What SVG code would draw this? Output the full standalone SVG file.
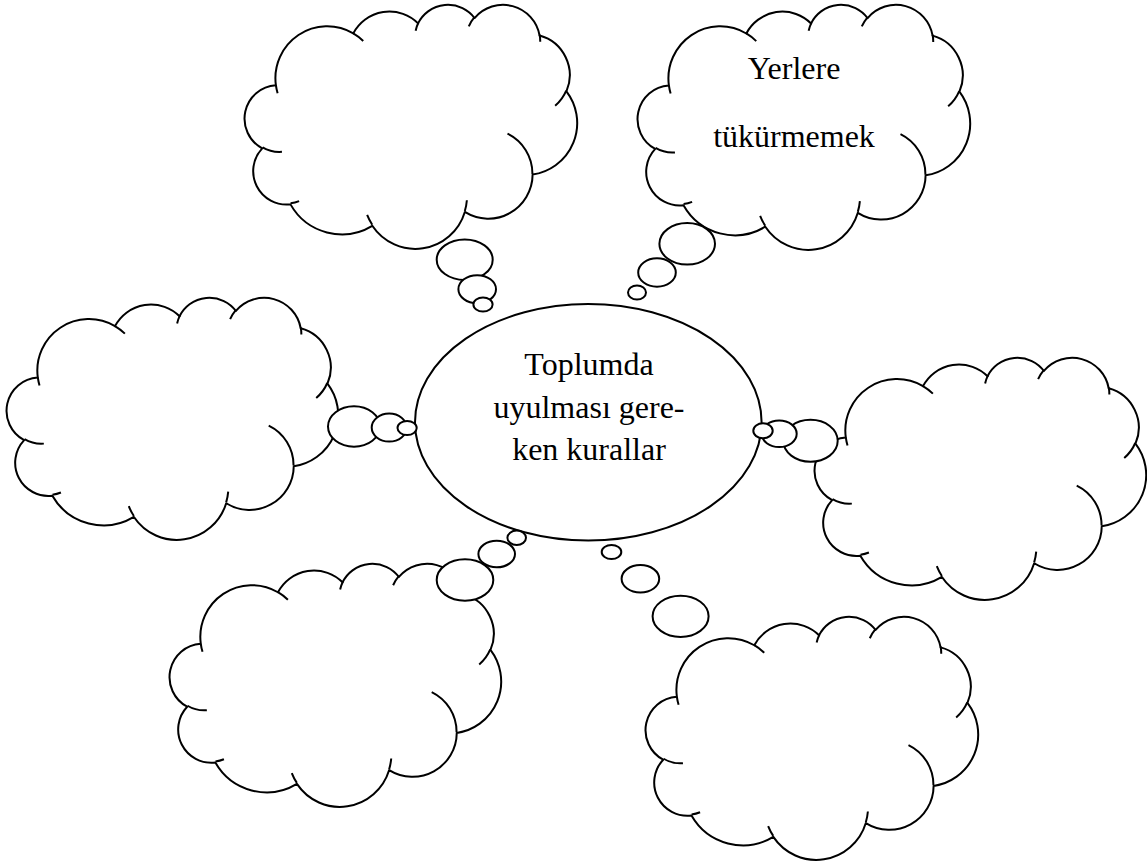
<svg xmlns="http://www.w3.org/2000/svg" xmlns:xlink="http://www.w3.org/1999/xlink" width="1147" height="863" viewBox="0 0 1147 863">
  <style>
    .body { fill: #ffffff; stroke: #000000; stroke-width: 2; vector-effect: non-scaling-stroke; stroke-linejoin: round; }
    .inner { fill: none; stroke: #000000; stroke-width: 2; vector-effect: non-scaling-stroke; stroke-linecap: butt; }
    .bubble { fill: #ffffff; stroke: #000000; stroke-width: 2; }
    .main { fill: #ffffff; stroke: #000000; stroke-width: 2; }
    .lbl { font-family: "Liberation Serif", "Times New Roman", serif; font-size: 32px; fill: #000000; text-anchor: middle; }
  </style>
  <defs>
    <path id="cloudBody" class="body" d="M 90.3 332.6 A 156.3 212.7 0 0 1 324.2 120.4 A 123.4 168.2 0 0 1 519.8 79.5 A 101.0 137.6 0 0 1 690.6 57.5 A 112.4 152.7 0 0 1 887.0 129.1 A 123.4 168.4 0 0 1 968.1 357.9 A 156.8 213.4 0 0 1 865.9 699.2 A 133.9 182.1 0 0 1 661.1 852.2 A 156.3 213.3 0 0 1 381.6 909.0 A 178.7 244.1 0 0 1 134.4 821.2 A 100.9 137.0 0 0 1 49.0 591.5 A 100.6 137.6 0 0 1 90.3 332.6 Z"/>
    <path id="cloudInner" class="inner" d="M 95.5 365.5 A 156.3 212.7 0 0 1 90.3 332.6 M 108.6 605.9 A 100.6 137.6 0 0 1 50.0 587.5 M 160.4 807.8 A 100.9 137.0 0 0 1 134.7 816.7 M 381.4 904.9 A 156.3 213.3 0 0 1 366.0 864.6 M 667.3 804.4 A 156.3 213.3 0 0 1 661.1 848.6 M 790.0 531.3 A 133.9 182.1 0 0 1 865.3 696.5 M 967.5 355.4 A 123.4 168.4 0 0 1 934.0 417.4 M 887.1 125.6 A 112.4 152.7 0 0 1 888.9 154.9 M 673.1 91.5 A 112.4 152.7 0 0 1 690.3 54.2 M 512.5 109.3 A 101.0 137.6 0 0 1 520.8 77.1 M 324.1 120.2 A 156.3 212.7 0 0 1 354.2 151.4"/>
  </defs>

  <g id="center-node">
    <ellipse class="main" cx="588.3" cy="422.3" rx="173.3" ry="118.3"/>
    <text class="lbl" x="589" y="374.5">Toplumda</text>
    <text class="lbl" x="589" y="417.5">uyulması gere-</text>
    <text class="lbl" x="589" y="459.5">ken kurallar</text>
  </g>

  <g id="cloud-top-left" transform="translate(246 4) scale(0.331 0.244)">
    <use xlink:href="#cloudBody" href="#cloudBody"/>
    <use xlink:href="#cloudInner" href="#cloudInner"/>
  </g>

  <g id="cloud-top-right">
    <g transform="translate(639 4) scale(0.331 0.245)">
      <use xlink:href="#cloudBody" href="#cloudBody"/>
      <use xlink:href="#cloudInner" href="#cloudInner"/>
    </g>
    <text class="lbl" x="794" y="78.5">Yerlere</text>
    <text class="lbl" x="794" y="146.5">tükürmemek</text>
  </g>

  <g id="cloud-left" transform="translate(8 297) scale(0.330 0.242)">
    <use xlink:href="#cloudBody" href="#cloudBody"/>
    <use xlink:href="#cloudInner" href="#cloudInner"/>
  </g>

  <g id="cloud-right" transform="translate(816 357) scale(0.330 0.242)">
    <use xlink:href="#cloudBody" href="#cloudBody"/>
    <use xlink:href="#cloudInner" href="#cloudInner"/>
  </g>

  <g id="cloud-bottom-left" transform="translate(171 563) scale(0.330 0.243)">
    <use xlink:href="#cloudBody" href="#cloudBody"/>
    <use xlink:href="#cloudInner" href="#cloudInner"/>
  </g>

  <g id="cloud-bottom-right" transform="translate(647 616) scale(0.331 0.243)">
    <use xlink:href="#cloudBody" href="#cloudBody"/>
    <use xlink:href="#cloudInner" href="#cloudInner"/>
  </g>

  <g id="connectors">
    <g id="bubbles-top-left">
      <ellipse class="bubble" cx="464.7" cy="259.7" rx="28" ry="20.3"/>
      <ellipse class="bubble" cx="477.2" cy="289.2" rx="18.8" ry="14"/>
      <ellipse class="bubble" cx="483" cy="304.5" rx="9.6" ry="7"/>
    </g>
    <g id="bubbles-top-right">
      <ellipse class="bubble" cx="687.2" cy="243.8" rx="27.8" ry="20.8"/>
      <ellipse class="bubble" cx="657" cy="272.5" rx="18.8" ry="14.2"/>
      <ellipse class="bubble" cx="637" cy="292.5" rx="9" ry="7"/>
    </g>
    <g id="bubbles-left">
      <ellipse class="bubble" cx="354" cy="426.5" rx="26" ry="20.2"/>
      <ellipse class="bubble" cx="389.2" cy="427.6" rx="17.5" ry="14"/>
      <ellipse class="bubble" cx="407.1" cy="428" rx="9.6" ry="7"/>
    </g>
    <g id="bubbles-right">
      <ellipse class="bubble" cx="810.5" cy="440.8" rx="27.2" ry="21"/>
      <ellipse class="bubble" cx="779.2" cy="433.8" rx="17.5" ry="13.3"/>
      <ellipse class="bubble" cx="763" cy="430.8" rx="9.7" ry="7.5"/>
    </g>
    <g id="bubbles-bottom-left">
      <ellipse class="bubble" cx="465" cy="580" rx="28.3" ry="20.7"/>
      <ellipse class="bubble" cx="496.7" cy="554" rx="18.3" ry="13.3"/>
      <ellipse class="bubble" cx="516.7" cy="537.8" rx="9.3" ry="7.2"/>
    </g>
    <g id="bubbles-bottom-right">
      <ellipse class="bubble" cx="611.5" cy="552" rx="9.8" ry="7"/>
      <ellipse class="bubble" cx="640.4" cy="578.8" rx="18.8" ry="13.7"/>
      <ellipse class="bubble" cx="680.6" cy="616.3" rx="28" ry="20.6"/>
    </g>
  </g>
</svg>
